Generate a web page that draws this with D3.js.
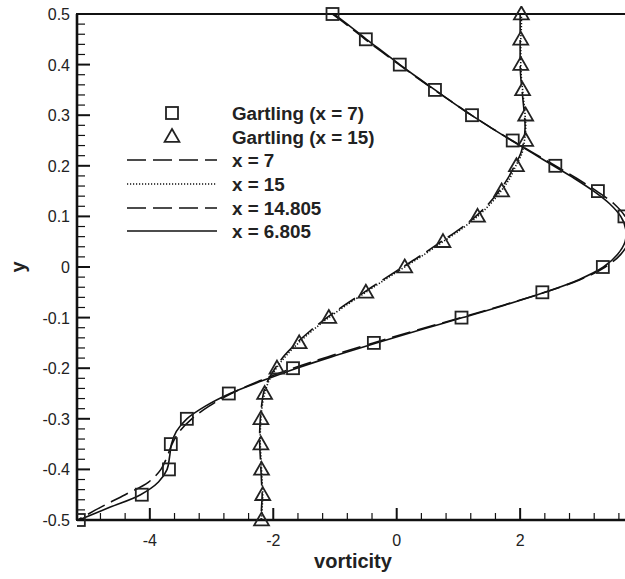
<!DOCTYPE html>
<html>
<head>
<meta charset="utf-8">
<script src="https://cdn.jsdelivr.net/npm/d3@7"></script>
<style>
  body { margin: 0; background: #fff; }
  svg { display: block; font-family: "Liberation Sans", Arial, Helvetica, sans-serif; }
</style>
</head>
<body>
<svg id="chart" width="625" height="579"></svg>
<script>
// y stations shared by the computed profiles
const yLevels = [0.5, 0.475, 0.45, 0.425, 0.4, 0.375, 0.35, 0.325, 0.3, 0.275, 0.25, 0.225, 0.2, 0.175, 0.15, 0.125, 0.1, 0.075, 0.05, 0.025, 0,
  -0.025, -0.05, -0.075, -0.1, -0.125, -0.15, -0.175, -0.2, -0.225, -0.25, -0.275, -0.3, -0.325, -0.35, -0.375, -0.4, -0.425, -0.45, -0.475, -0.5];

const vortX7 = [-1.04, -0.77, -0.51, -0.24, 0.04, 0.32, 0.61, 0.91, 1.21, 1.53, 1.87, 2.22, 2.57, 2.92, 3.24, 3.52, 3.70, 3.78, 3.76, 3.63, 3.38,
  2.97, 2.40, 1.74, 1.04, 0.32, -0.38, -1.05, -1.68, -2.22, -2.68, -3.04, -3.32, -3.52, -3.64, -3.72, -3.82, -4.02, -4.40, -4.80, -5.17];
const vortX15 = [2.02, 2.02, 2.01, 2.01, 2.01, 2.02, 2.04, 2.06, 2.08, 2.09, 2.07, 2.03, 1.93, 1.83, 1.69, 1.52, 1.31, 1.05, 0.75, 0.45, 0.13,
  -0.19, -0.50, -0.81, -1.10, -1.36, -1.59, -1.79, -1.95, -2.07, -2.14, -2.18, -2.20, -2.21, -2.21, -2.20, -2.19, -2.18, -2.17, -2.18, -2.19];
const vortX14805 = [2.00, 2.00, 2.00, 2.00, 2.00, 2.01, 2.03, 2.05, 2.07, 2.08, 2.06, 2.01, 1.91, 1.80, 1.66, 1.49, 1.28, 1.02, 0.72, 0.42, 0.10,
  -0.22, -0.53, -0.84, -1.13, -1.39, -1.62, -1.82, -1.97, -2.09, -2.16, -2.19, -2.21, -2.22, -2.22, -2.21, -2.20, -2.19, -2.18, -2.19, -2.20];
const vortX6805 = [-1.02, -0.75, -0.49, -0.22, 0.05, 0.33, 0.62, 0.91, 1.21, 1.53, 1.86, 2.20, 2.54, 2.88, 3.19, 3.45, 3.63, 3.71, 3.70, 3.58, 3.35,
  2.95, 2.40, 1.76, 1.07, 0.36, -0.33, -0.99, -1.62, -2.18, -2.70, -3.10, -3.40, -3.57, -3.65, -3.68, -3.72, -3.86, -4.15, -4.65, -5.15];

// Gartling benchmark points
const gartY7 = [0.5, 0.45, 0.4, 0.35, 0.3, 0.25, 0.2, 0.15, 0.1, 0, -0.05, -0.1, -0.15, -0.2, -0.25, -0.3, -0.35, -0.4, -0.45, -0.5];
const gartV7 = [-1.04, -0.50, 0.05, 0.62, 1.22, 1.88, 2.57, 3.26, 3.69, 3.34, 2.36, 1.05, -0.37, -1.68, -2.72, -3.40, -3.66, -3.69, -4.13, -5.15];
const gartY15 = [0.5, 0.45, 0.4, 0.35, 0.3, 0.25, 0.2, 0.15, 0.1, 0.05, 0, -0.05, -0.1, -0.15, -0.2, -0.25, -0.3, -0.35, -0.4, -0.45, -0.5];
const gartV15 = [2.02, 2.01, 2.01, 2.04, 2.09, 2.09, 1.94, 1.70, 1.31, 0.75, 0.13, -0.50, -1.10, -1.58, -1.94, -2.14, -2.20, -2.20, -2.19, -2.17, -2.19];

const xMajor = [-4, -2, 0, 2];
const yMajor = [0.5, 0.4, 0.3, 0.2, 0.1, 0, -0.1, -0.2, -0.3, -0.4, -0.5];
const legendLabels = ["Gartling (x = 7)", "Gartling (x = 15)", "x = 7", "x = 15", "x = 14.805", "x = 6.805"];

const svg = d3.select('#chart');
const plotL = 77, plotR = 630, plotT = 14, plotB = 520;

const x = d3.scaleLinear().domain([-5.18, 3.78]).range([plotL, plotR]);
const y = d3.scaleLinear().domain([-0.5, 0.5]).range([plotB, plotT]);

svg.append('clipPath').attr('id', 'plotClip')
  .append('rect').attr('x', plotL).attr('y', plotT - 8).attr('width', plotR - plotL).attr('height', plotB - plotT + 16);

// minor ticks
const xMinor = d3.range(-4.8, 3.7, 0.4).map(v => Math.round(v * 10) / 10).filter(v => !xMajor.includes(v));
const yMinor = d3.range(-0.48, 0.5, 0.02).map(v => Math.round(v * 100) / 100).filter(v => !yMajor.some(m => Math.abs(m - v) < 1e-9));

const axisG = svg.append('g').attr('stroke', '#111');
axisG.selectAll('.xmaj').data(xMajor).join('line').attr('class', 'xmaj')
  .attr('x1', d => x(d)).attr('x2', d => x(d)).attr('y1', plotB).attr('y2', plotB - 12).attr('stroke-width', 2);
axisG.selectAll('.xmin').data(xMinor).join('line').attr('class', 'xmin')
  .attr('x1', d => x(d)).attr('x2', d => x(d)).attr('y1', plotB).attr('y2', plotB - 7).attr('stroke-width', 1.2);
axisG.selectAll('.ymaj').data(yMajor).join('line').attr('class', 'ymaj')
  .attr('x1', plotL).attr('x2', plotL + 13).attr('y1', d => y(d)).attr('y2', d => y(d)).attr('stroke-width', 2);
axisG.selectAll('.ymin').data(yMinor).join('line').attr('class', 'ymin')
  .attr('x1', plotL).attr('x2', plotL + 8).attr('y1', d => y(d)).attr('y2', d => y(d)).attr('stroke-width', 1.2);

// frame
svg.append('rect').attr('x', plotL).attr('y', plotT).attr('width', plotR - plotL).attr('height', plotB - plotT)
  .attr('fill', 'none').attr('stroke', '#111').attr('stroke-width', 2);
svg.append('line').attr('x1', plotL).attr('x2', plotL).attr('y1', plotT).attr('y2', plotB)
  .attr('stroke', '#111').attr('stroke-width', 2.6);
svg.append('line').attr('x1', plotL).attr('x2', plotR).attr('y1', plotB).attr('y2', plotB)
  .attr('stroke', '#111').attr('stroke-width', 2.6);

// tick labels (plain hyphen for negatives, as in the original)
svg.selectAll('.xlab').data(xMajor).join('text').attr('class', 'xlab')
  .attr('x', d => x(d)).attr('y', plotB + 26).attr('text-anchor', 'middle')
  .attr('font-size', 16).attr('fill', '#222').text(d => String(d));
svg.selectAll('.ylab').data(yMajor).join('text').attr('class', 'ylab')
  .attr('x', 70).attr('y', d => y(d) + 6).attr('text-anchor', 'end')
  .attr('font-size', 16).attr('fill', '#222').text(d => d === 0 ? '0' : d.toFixed(1));

svg.append('text').attr('x', 353).attr('y', 568).attr('text-anchor', 'middle')
  .attr('font-size', 20).attr('font-weight', 'bold').attr('fill', '#222').text('vorticity');
svg.append('text').attr('transform', 'translate(25,267) rotate(-90)').attr('text-anchor', 'middle')
  .attr('font-size', 20).attr('font-weight', 'bold').attr('fill', '#222').text('y');

// profiles
const series = [
  { vals: vortX7, dash: '19,7' },
  { vals: vortX15, dash: '1.2,1.8' },
  { vals: vortX14805, dash: '19,7' },
  { vals: vortX6805, dash: null }
];
const line = d3.line().x(d => x(d[0])).y(d => y(d[1])).curve(d3.curveCatmullRom.alpha(0.5));
const plot = svg.append('g').attr('clip-path', 'url(#plotClip)');
series.forEach(s => {
  plot.append('path')
    .attr('d', line(s.vals.map((v, i) => [v, yLevels[i]])))
    .attr('fill', 'none').attr('stroke', '#111').attr('stroke-width', 1.6)
    .attr('stroke-dasharray', s.dash);
});

// markers
const sq = 12;
plot.selectAll('.sq').data(gartV7.map((v, i) => [v, gartY7[i]])).join('rect').attr('class', 'sq')
  .attr('x', d => x(d[0]) - sq / 2).attr('y', d => y(d[1]) - sq / 2)
  .attr('width', sq).attr('height', sq)
  .attr('fill', 'none').attr('stroke', '#222').attr('stroke-width', 1.8);
const tri = d3.symbol().type(d3.symbolTriangle).size(95);
plot.selectAll('.tri').data(gartV15.map((v, i) => [v, gartY15[i]])).join('path').attr('class', 'tri')
  .attr('d', tri).attr('transform', d => `translate(${x(d[0])},${y(d[1]) + 1})`)
  .attr('fill', 'none').attr('stroke', '#222').attr('stroke-width', 1.8);

// legend
const rows = [113, 136.5, 160, 184, 208, 231];
const leg = svg.append('g');
leg.append('rect').attr('x', 172 - 6).attr('y', rows[0] - 6).attr('width', 12).attr('height', 12)
  .attr('fill', 'none').attr('stroke', '#222').attr('stroke-width', 1.8);
leg.append('path').attr('d', tri).attr('transform', `translate(172,${rows[1] + 1})`)
  .attr('fill', 'none').attr('stroke', '#222').attr('stroke-width', 1.8);
series.forEach((s, i) => {
  leg.append('line').attr('x1', 127).attr('x2', 217).attr('y1', rows[i + 2]).attr('y2', rows[i + 2])
    .attr('stroke', '#111').attr('stroke-width', 1.6).attr('stroke-dasharray', s.dash);
});
leg.selectAll('.legtext').data(legendLabels).join('text').attr('class', 'legtext')
  .attr('x', 232).attr('y', (d, i) => rows[i] + 7)
  .attr('font-size', 18.8).attr('font-weight', 'bold').attr('fill', '#222').text(d => d);
</script>
</body>
</html>
